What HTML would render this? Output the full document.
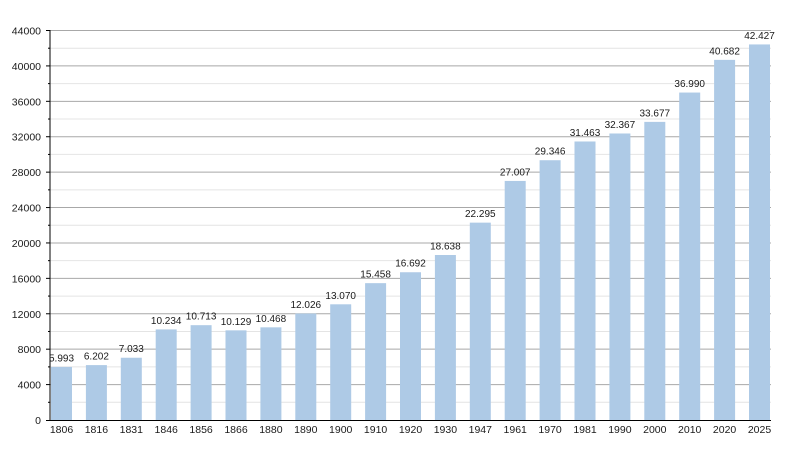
<!DOCTYPE html>
<html><head><meta charset="utf-8"><style>
html,body{margin:0;padding:0;background:#fff;}
svg{display:block;}
text{font-family:"Liberation Sans",Arial,sans-serif;font-size:10.5px;fill:#1a1a1a;}
.v text{font-size:10px;}
</style></head><body>
<svg width="800" height="450" viewBox="0 0 800 450" xmlns="http://www.w3.org/2000/svg">
<rect width="800" height="450" fill="#fff"/>
<g stroke="#e4e4e4" stroke-width="1">
<line x1="50" x2="771" y1="402.3" y2="402.3"/>
<line x1="50" x2="771" y1="366.89" y2="366.89"/>
<line x1="50" x2="771" y1="331.48" y2="331.48"/>
<line x1="50" x2="771" y1="296.07" y2="296.07"/>
<line x1="50" x2="771" y1="260.66" y2="260.66"/>
<line x1="50" x2="771" y1="225.25" y2="225.25"/>
<line x1="50" x2="771" y1="189.84" y2="189.84"/>
<line x1="50" x2="771" y1="154.43" y2="154.43"/>
<line x1="50" x2="771" y1="119.02" y2="119.02"/>
<line x1="50" x2="771" y1="83.61" y2="83.61"/>
<line x1="50" x2="771" y1="48.2" y2="48.2"/>
</g>
<g stroke="#a8a8a8" stroke-width="1">
<line x1="50" x2="771" y1="384.59" y2="384.59"/>
<line x1="50" x2="771" y1="349.18" y2="349.18"/>
<line x1="50" x2="771" y1="313.77" y2="313.77"/>
<line x1="50" x2="771" y1="278.36" y2="278.36"/>
<line x1="50" x2="771" y1="242.95" y2="242.95"/>
<line x1="50" x2="771" y1="207.55" y2="207.55"/>
<line x1="50" x2="771" y1="172.14" y2="172.14"/>
<line x1="50" x2="771" y1="136.73" y2="136.73"/>
<line x1="50" x2="771" y1="101.32" y2="101.32"/>
<line x1="50" x2="771" y1="65.91" y2="65.91"/>
<line x1="50" x2="771" y1="30.5" y2="30.5"/>
</g>
<g fill="#aecae6">
<rect x="51" y="366.95" width="21" height="53.05"/>
<rect x="85.9" y="365.1" width="21" height="54.9"/>
<rect x="120.8" y="357.74" width="21" height="62.26"/>
<rect x="155.7" y="329.41" width="21" height="90.59"/>
<rect x="190.6" y="325.17" width="21" height="94.83"/>
<rect x="225.5" y="330.34" width="21" height="89.66"/>
<rect x="260.4" y="327.33" width="21" height="92.67"/>
<rect x="295.3" y="313.54" width="21" height="106.46"/>
<rect x="330.2" y="304.3" width="21" height="115.7"/>
<rect x="365.1" y="283.16" width="21" height="136.84"/>
<rect x="400" y="272.24" width="21" height="147.76"/>
<rect x="434.9" y="255.01" width="21" height="164.99"/>
<rect x="469.8" y="222.64" width="21" height="197.36"/>
<rect x="504.7" y="180.93" width="21" height="239.07"/>
<rect x="539.6" y="160.22" width="21" height="259.78"/>
<rect x="574.5" y="141.48" width="21" height="278.52"/>
<rect x="609.4" y="133.48" width="21" height="286.52"/>
<rect x="644.3" y="121.88" width="21" height="298.12"/>
<rect x="679.2" y="92.55" width="21" height="327.45"/>
<rect x="714.1" y="59.87" width="21" height="360.13"/>
<rect x="749" y="44.43" width="21" height="375.57"/>
</g>
<g stroke="#000" stroke-width="1">
<line x1="50" x2="50" y1="30" y2="420.5"/>
<line x1="46" x2="771" y1="420.5" y2="420.5"/>
<line x1="46" x2="50" y1="384.59" y2="384.59"/>
<line x1="46" x2="50" y1="349.18" y2="349.18"/>
<line x1="46" x2="50" y1="313.77" y2="313.77"/>
<line x1="46" x2="50" y1="278.36" y2="278.36"/>
<line x1="46" x2="50" y1="242.95" y2="242.95"/>
<line x1="46" x2="50" y1="207.55" y2="207.55"/>
<line x1="46" x2="50" y1="172.14" y2="172.14"/>
<line x1="46" x2="50" y1="136.73" y2="136.73"/>
<line x1="46" x2="50" y1="101.32" y2="101.32"/>
<line x1="46" x2="50" y1="65.91" y2="65.91"/>
<line x1="46" x2="50" y1="30.5" y2="30.5"/>
<line x1="48" x2="50" y1="402.3" y2="402.3"/>
<line x1="48" x2="50" y1="366.89" y2="366.89"/>
<line x1="48" x2="50" y1="331.48" y2="331.48"/>
<line x1="48" x2="50" y1="296.07" y2="296.07"/>
<line x1="48" x2="50" y1="260.66" y2="260.66"/>
<line x1="48" x2="50" y1="225.25" y2="225.25"/>
<line x1="48" x2="50" y1="189.84" y2="189.84"/>
<line x1="48" x2="50" y1="154.43" y2="154.43"/>
<line x1="48" x2="50" y1="119.02" y2="119.02"/>
<line x1="48" x2="50" y1="83.61" y2="83.61"/>
<line x1="48" x2="50" y1="48.2" y2="48.2"/>
</g>
<g text-anchor="end">
<text x="41" y="424">0</text>
<text x="41" y="388.6">4000</text>
<text x="41" y="353.2">8000</text>
<text x="41" y="317.8">12000</text>
<text x="41" y="282.4">16000</text>
<text x="41" y="247">20000</text>
<text x="41" y="211.5">24000</text>
<text x="41" y="176.1">28000</text>
<text x="41" y="140.7">32000</text>
<text x="41" y="105.3">36000</text>
<text x="41" y="69.9">40000</text>
<text x="41" y="34.5">44000</text>
</g>
<g text-anchor="middle">
<text x="61.5" y="433">1806</text>
<text x="96.4" y="433">1816</text>
<text x="131.3" y="433">1831</text>
<text x="166.2" y="433">1846</text>
<text x="201.1" y="433">1856</text>
<text x="236" y="433">1866</text>
<text x="270.9" y="433">1880</text>
<text x="305.8" y="433">1890</text>
<text x="340.7" y="433">1900</text>
<text x="375.6" y="433">1910</text>
<text x="410.5" y="433">1920</text>
<text x="445.4" y="433">1930</text>
<text x="480.3" y="433">1947</text>
<text x="515.2" y="433">1961</text>
<text x="550.1" y="433">1970</text>
<text x="585" y="433">1981</text>
<text x="619.9" y="433">1990</text>
<text x="654.8" y="433">2000</text>
<text x="689.7" y="433">2010</text>
<text x="724.6" y="433">2020</text>
<text x="759.5" y="433">2025</text>
</g>
<g class="v" text-anchor="middle">
<text x="61.5" y="361.5">5.993</text>
<text x="96.4" y="359.6">6.202</text>
<text x="131.3" y="352.2">7.033</text>
<text x="166.2" y="323.9">10.234</text>
<text x="201.1" y="319.7">10.713</text>
<text x="236" y="324.8">10.129</text>
<text x="270.9" y="321.8">10.468</text>
<text x="305.8" y="308">12.026</text>
<text x="340.7" y="298.8">13.070</text>
<text x="375.6" y="277.7">15.458</text>
<text x="410.5" y="266.7">16.692</text>
<text x="445.4" y="249.5">18.638</text>
<text x="480.3" y="217.1">22.295</text>
<text x="515.2" y="175.4">27.007</text>
<text x="550.1" y="154.7">29.346</text>
<text x="585" y="136">31.463</text>
<text x="619.9" y="128">32.367</text>
<text x="654.8" y="116.4">33.677</text>
<text x="689.7" y="87">36.990</text>
<text x="724.6" y="54.4">40.682</text>
<text x="759.5" y="38.9">42.427</text>
</g>
</svg>
</body></html>
